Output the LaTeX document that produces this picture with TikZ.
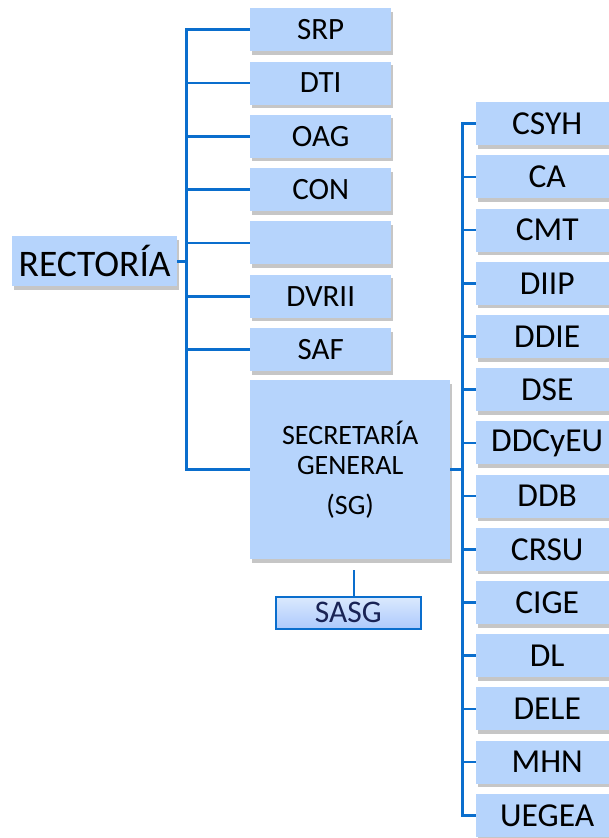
\documentclass[tikz,border=0pt]{standalone}
\usepackage{fontspec}
\setmainfont{Carlito}
\usetikzlibrary{shadows}
\definecolor{boxblue}{RGB}{182,212,252}
\definecolor{lineblue}{RGB}{10,110,205}
\definecolor{navy}{RGB}{25,35,85}
\begin{document}
\begin{tikzpicture}[x=1pt, y=-1pt,
          base/.style={rectangle, fill=boxblue, inner sep=0pt, minimum width=141pt, minimum height=43pt,
            anchor=north west, font=\fontsize{31}{33}\selectfont,
            drop shadow={shadow xshift=1.5pt, shadow yshift=-3.5pt, opacity=0.45}},
          unit/.style={base, minimum width=142pt, font=\fontsize{33.5}{35}\selectfont},
          big/.style={base, minimum width=200pt, minimum height=179pt, align=center,
            font=\fontsize{28}{30}\selectfont},
          sub/.style={rectangle, draw=lineblue, line width=1.6pt, top color=boxblue!50, bottom color=boxblue!95!blue,
            inner sep=0pt, minimum width=145pt, minimum height=32pt, anchor=north west, text=navy,
            font=\fontsize{31.5}{33}\selectfont},
          conn/.style={draw=lineblue, line width=2.6pt}]
          \useasboundingbox (0,0) rectangle (609,838);
          % left column
          \node[base, minimum width=165pt, minimum height=50pt, font=\fontsize{37.5}{40}\selectfont] (rect) at (12,236) {RECTORÍA};
          \node[base] (srp) at (250,8) {SRP};
          \node[base] (dti) at (250,61.3) {DTI};
          \node[base] (oag) at (250,114.6) {OAG};
          \node[base] (con) at (250,167.9) {CON};
          \node[base] (blank) at (250,221.2) {};
          \node[base] (dvrii) at (250,274.5) {DVRII};
          \node[base] (saf) at (250,327.8) {SAF};
          \node[big] (sg) at (250,380) {SECRETARÍA\\GENERAL\\[10pt](SG)};
          \node[sub] (sasg) at (275,596) {SASG};
          % right column
          \node[unit] (csyh) at (476,102) {CSYH};
          \node[unit] (ca) at (476,155.2) {CA};
          \node[unit] (cmt) at (476,208.4) {CMT};
          \node[unit] (diip) at (476,261.6) {DIIP};
          \node[unit] (ddie) at (476,314.8) {DDIE};
          \node[unit] (dse) at (476,368) {DSE};
          \node[unit] (ddcyeu) at (476,421.2) {DDCyEU};
          \node[unit] (ddb) at (476,474.4) {DDB};
          \node[unit] (crsu) at (476,527.6) {CRSU};
          \node[unit] (cige) at (476,580.8) {CIGE};
          \node[unit] (dl) at (476,634) {DL};
          \node[unit] (dele) at (476,687.2) {DELE};
          \node[unit] (mhn) at (476,740.4) {MHN};
          \node[unit] (uegea) at (476,793.6) {UEGEA};
          % connectors
          \foreach \n in {srp,dti,oag,con,blank,dvrii,saf,sg}
            \draw[conn] (rect.east) -- ++(9,0) |- (\n.west);
          \foreach \n in {csyh,ca,cmt,diip,ddie,dse,ddcyeu,ddb,crsu,cige,dl,dele,mhn,uegea}
            \draw[conn] (sg.east) -- ++(12,0) |- (\n.west);
          \draw[conn, line width=1.8pt] ([xshift=4pt, yshift=-11pt]sg.south) -- ([xshift=4pt]sg.south |- sasg.north);
        \end{tikzpicture}
\end{document}
